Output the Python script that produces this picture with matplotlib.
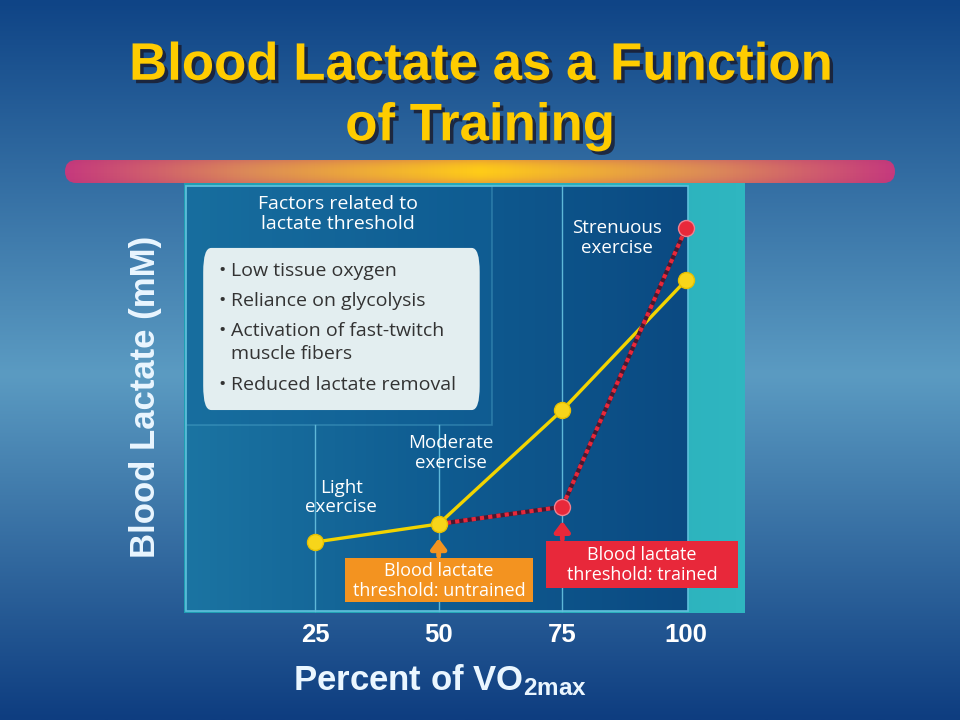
import numpy as np
import matplotlib
matplotlib.use('Agg')
import matplotlib.pyplot as plt
from matplotlib.patches import Rectangle, FancyBboxPatch
from matplotlib.colors import LinearSegmentedColormap
import matplotlib.patheffects as pe

# ---------------- data ----------------
pct_vo2 = [25, 50, 75, 100]
untrained_lactate = [1.65, 2.07, 4.72, 7.74]
trained_pct = [50, 75, 100]
trained_lactate = [2.07, 2.47, 8.95]
tick_labels = ['25', '50', '75', '100']
factor_title = 'Factors related to\nlactate threshold'
factors = ['Low tissue oxygen', 'Reliance on glycolysis',
           'Activation of fast-twitch\nmuscle fibers', 'Reduced lactate removal']
title = 'Blood Lactate as a Function\nof Training'

plt.rcParams['mathtext.fontset'] = 'custom'
plt.rcParams['mathtext.bf'] = 'Liberation Sans:bold'
plt.rcParams['mathtext.rm'] = 'Liberation Sans:bold'
plt.rcParams['mathtext.default'] = 'bf'

W, H = 960, 720
fig = plt.figure(figsize=(9.6, 7.2), dpi=100)

# ---------------- slide background ----------------
bg = fig.add_axes([0, 0, 1, 1], zorder=-10)
bg.set_xlim(0, W)
bg.set_ylim(H, 0)
bg.axis('off')
bg_cmap = LinearSegmentedColormap.from_list(
    'bg', [(0, '#0f4486'), (0.52, '#5b9bc2'), (1.0, '#0e3d80')])
grad = np.linspace(0, 1, 256).reshape(-1, 1)
bg.imshow(grad, cmap=bg_cmap, extent=(0, W, H, 0), aspect='auto', zorder=0)

# decorative bar
bar_cmap = LinearSegmentedColormap.from_list(
    'bar', [(0, '#c63a7e'), (0.22, '#dc8a58'), (0.5, '#ffcc18'), (0.78, '#dc8a58'), (1, '#c63a7e')])
bar_patch = FancyBboxPatch((65, 160), 830, 23, boxstyle='round,pad=0,rounding_size=11.5',
                           linewidth=0, facecolor='none', transform=bg.transData)
bg.add_patch(bar_patch)
hb = np.linspace(0, 1, 512).reshape(1, -1)
im_bar = bg.imshow(hb, cmap=bar_cmap, extent=(65, 895, 183, 160), aspect='auto', zorder=1)
im_bar.set_clip_path(bar_patch)
vshade = np.zeros((64, 1, 4))
v = np.linspace(-1, 1, 64)
vshade[:, 0, 3] = 0.25 * np.abs(v) ** 2
vshade[:, 0, :3] = [0.7, 0.2, 0.45]
im_v = bg.imshow(vshade, extent=(65, 895, 183, 160), aspect='auto', zorder=2)
im_v.set_clip_path(bar_patch)

# title
fig.text(0.5, 1 - 96 / H, title, ha='center', va='center', color='#ffcc00',
         fontsize=38, fontweight='bold', family='Liberation Sans', linespacing=1.27,
         path_effects=[pe.withSimplePatchShadow(offset=(2.5, -2.5), shadow_rgbFace='#1a1a2a', alpha=0.8)])

# ---------------- chart panel ----------------
ax = fig.add_axes([184 / W, (H - 613) / H, 561 / W, 430 / H])
x0, x1 = -1.48, 111.93
ax.set_xlim(x0, x1)
ax.set_ylim(0, 10)
for s in ax.spines.values():
    s.set_visible(False)

teal_cmap = LinearSegmentedColormap.from_list('teal', ['#1f9eb3', '#2fb6c0'])
ax.imshow(np.linspace(0, 1, 64).reshape(1, -1), cmap=teal_cmap, extent=(x0, x1, 0, 10),
          aspect='auto', zorder=0)

pa = (-1.08, 100.4, 0.05, 9.93)
area_cmap = LinearSegmentedColormap.from_list('area', ['#1b74a2', '#0f5c91', '#0b4a82'])
ax.imshow(np.linspace(0, 1, 128).reshape(1, -1), cmap=area_cmap, extent=pa,
          aspect='auto', zorder=1)
ax.add_patch(Rectangle((pa[0], pa[2]), pa[1] - pa[0], pa[3] - pa[2], fill=False,
                       edgecolor='#5fc0dc', lw=1.2, zorder=3))

# factors region
ax.add_patch(Rectangle((-1.08, 4.37), 61.9, 9.93 - 4.37, facecolor='#12649a', alpha=0.35,
                       edgecolor='#5fb8d8', lw=1.2, zorder=2))
ax.add_patch(FancyBboxPatch((2.4, 4.72), 55.9, 3.77, boxstyle='round,pad=0,rounding_size=1.6',
                            mutation_aspect=0.35, facecolor='#e3eef0', edgecolor='none', zorder=4))
ax.text(29.7, 9.28, factor_title, ha='center', va='center', color='white', fontsize=14,
        family='Open Sans', linespacing=1.1, zorder=5)

line_step = 23 / 43
line_y = [7.95, 7.26, 6.56, 5.30]
for yv, item in zip(line_y, factors):
    ax.text(5.4, yv, '\u2022', ha='left', va='center', color='#333333', fontsize=14,
            family='Open Sans', zorder=5)
    for k, part in enumerate(item.split('\n')):
        ax.text(8.0, yv - k * line_step, part, ha='left', va='center', color='#333333',
                fontsize=14, family='Open Sans', zorder=5)

# grid lines
for t in pct_vo2[:-1]:
    top = 9.93 if t > 60 else 4.37
    ax.plot([t, t], [0.05, top], color='#5fb8d8', lw=1.0, zorder=2)

# phase labels
lab_kw = dict(ha='center', va='center', color='white', fontsize=13.5, family='Open Sans',
              linespacing=1.1, zorder=5)
ax.text(30.3, 2.68, 'Light\nexercise', **lab_kw)
ax.text(52.5, 3.72, 'Moderate\nexercise', **lab_kw)
ax.text(86.0, 8.72, 'Strenuous\nexercise', **lab_kw)

# threshold boxes
ax.add_patch(Rectangle((31.1, 0.26), 38.0, 1.02, facecolor='#f39320', edgecolor='none', zorder=5))
ax.text(50.1, 0.75, 'Blood lactate\nthreshold: untrained', ha='center', va='center', color='white',
        fontsize=13, family='Open Sans', linespacing=1.15, zorder=6)
ax.annotate('', xy=(trained_pct[0], 1.8), xytext=(trained_pct[0], 1.26),
            arrowprops=dict(arrowstyle='-|>,head_width=0.45,head_length=0.6', color='#f39320', lw=3.5),
            zorder=6)
ax.add_patch(Rectangle((71.7, 0.58), 38.8, 1.09, facecolor='#e8283a', edgecolor='none', zorder=5))
ax.text(91.1, 1.11, 'Blood lactate\nthreshold: trained', ha='center', va='center', color='white',
        fontsize=13, family='Open Sans', linespacing=1.15, zorder=6)
ax.annotate('', xy=(trained_pct[1], 2.2), xytext=(trained_pct[1], 1.65),
            arrowprops=dict(arrowstyle='-|>,head_width=0.45,head_length=0.6', color='#e8283a', lw=3.5),
            zorder=6)

# data lines
ax.plot(pct_vo2, untrained_lactate, color='#f2d400', lw=2.4, zorder=7, solid_capstyle='round')
ax.plot(trained_pct, trained_lactate, color='#4a1830', lw=3.0, zorder=7)
ax.plot(trained_pct, trained_lactate, color='#e8283a', lw=3.0, zorder=7,
        linestyle=(0, (1.0, 1.0)))
ax.plot(pct_vo2, untrained_lactate, linestyle='none', marker='o', markersize=11.5,
        markerfacecolor='#f7d51a', markeredgecolor='#e8c000', markeredgewidth=1, zorder=8)
ax.plot(trained_pct[1:], trained_lactate[1:], linestyle='none', marker='o', markersize=11.5,
        markerfacecolor='#e8283a', markeredgecolor='#f08090', markeredgewidth=1, zorder=8)

# axis ticks/labels
ax.set_xticks(pct_vo2)
ax.set_xticklabels(tick_labels)
ax.set_yticks([])
ax.tick_params(axis='x', length=0, pad=7, labelsize=18.5, labelcolor='white')
for lab in ax.get_xticklabels():
    lab.set_fontweight('bold')
    lab.set_family('Liberation Sans')

fig.text(145 / W, 1 - 397 / H, 'Blood Lactate (mM)', rotation=90, ha='center', va='center',
         color='#eaf6ff', fontsize=25, fontweight='bold', family='Liberation Sans')
fig.text(440 / W, 1 - 680 / H, r'Percent of VO$_{2max}$', ha='center', va='center',
         color='#eaf6ff', fontsize=25, fontweight='bold', family='Liberation Sans')

fig.savefig('out.png', dpi=100)
